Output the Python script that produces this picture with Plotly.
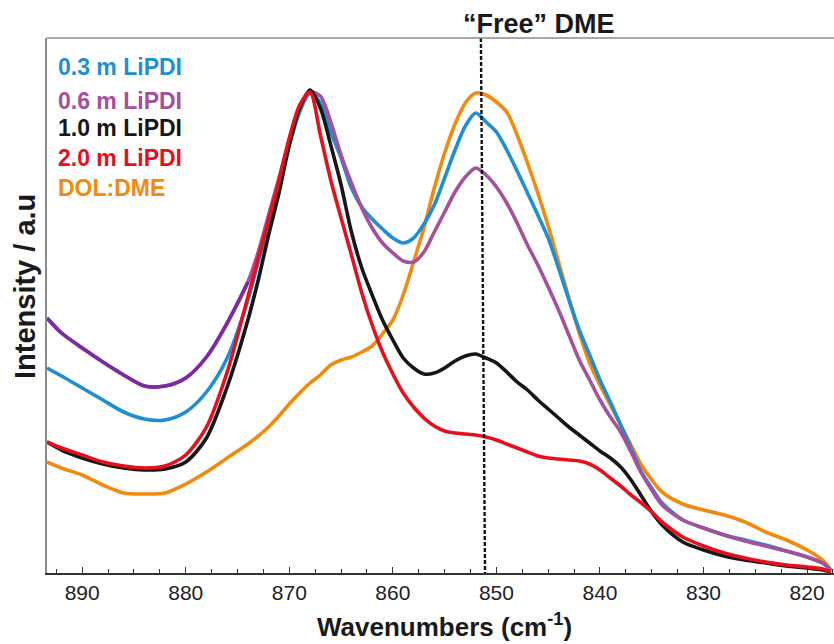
import plotly.graph_objects as go

# ---------------- data ----------------
wavenumber = [893.4, 892, 890, 888, 886, 884, 882, 880, 878, 876, 874,
              873, 872, 871, 870, 869, 868, 867, 866, 865, 864, 863, 862, 861, 860,
              859, 858, 857, 856, 855, 854, 853, 852, 851, 850, 849, 848, 847, 846,
              845, 844, 843, 842, 841, 840, 839, 838, 837, 836, 835, 834,
              832, 830, 828, 826, 824, 822, 820, 818.5, 817.7]

lipdi_03 = [205, 197, 185, 173, 161, 154, 153, 161, 181, 215, 273,
            311, 348, 388, 428, 461, 480, 470, 441, 415, 385, 366, 354, 344, 335,
            330, 335, 349, 368, 395, 423, 447, 460, 451, 441, 423, 402, 380, 358,
            335, 305, 273, 243, 218, 193, 171, 148, 125, 101, 85, 70,
            53, 45, 38, 33, 28, 22, 16, 10, 3]

lipdi_06 = [255, 240, 225, 211, 198, 187, 187, 195, 216, 250, 291,
            321, 358, 395, 433, 465, 481, 477, 451, 418, 390, 365, 345, 330, 320,
            312, 311, 321, 341, 361, 381, 396, 405, 398, 386, 370, 350, 328, 308,
            286, 263, 238, 213, 193, 173, 156, 141, 121, 100, 83, 68,
            53, 45, 38, 32, 27, 22, 16, 10, 3]

lipdi_10 = [131, 123, 115, 109, 105, 103, 104, 111, 135, 186, 253,
            293, 338, 380, 428, 465, 483, 465, 428, 388, 341, 305, 278, 253, 233,
            215, 205, 199, 200, 205, 212, 217, 219, 215, 210, 201, 191, 183, 173,
            164, 155, 146, 138, 130, 122, 115, 106, 93, 77, 61, 48,
            31, 23, 17, 13, 10, 7, 5, 3, 1]

lipdi_20 = [131, 125, 118, 111, 107, 105, 107, 118, 146, 201, 276,
            315, 353, 392, 435, 468, 481, 438, 393, 355, 318, 280, 248, 221, 199,
            180, 166, 155, 147, 142, 140, 139, 138, 136, 133, 129, 125, 121, 117,
            115, 114, 113, 112, 109, 103, 95, 87, 78, 70, 61, 51,
            36, 27, 20, 15, 11, 8, 6, 4, 1]

dol_dme = [111, 105, 98, 88, 80, 79, 80, 89, 101, 115, 129,
           137, 146, 157, 169, 180, 190, 198, 208, 213, 216, 221, 227, 239, 253,
           278, 311, 345, 385, 420, 449, 470, 480, 478, 471, 461, 438, 410, 380,
           347, 311, 275, 240, 210, 188, 168, 148, 128, 108, 93, 81,
           69, 63, 58, 51, 41, 33, 23, 13, 3]

series_names = ["0.3 m LiPDI", "0.6 m LiPDI", "1.0 m LiPDI", "2.0 m LiPDI", "DOL:DME"]
series_colors = ["#1f8fd2", "#a4509c", "#161616", "#e5101c", "#f28a10"]

free_dme_x = [851.5, 851.1]      # dashed reference line (top, bottom)
free_dme_y = [535, 0]
x_ticks = [890, 880, 870, 860, 850, 840, 830, 820]
x_range = [893.4, 817.4]
y_range = [0, 535]

# ---------------- figure ----------------
fig = go.Figure()

ser = [lipdi_03, lipdi_06, lipdi_10, lipdi_20, dol_dme]
order = [4, 0, 1, 2, 3]
for i in order:
    fig.add_trace(go.Scatter(x=wavenumber, y=ser[i], mode="lines", name=series_names[i],
                             line=dict(color=series_colors[i], width=3.6, shape="spline",
                                       smoothing=0.8),
                             showlegend=False, hoverinfo="skip"))
    if i == 1:
        # darker violet tint of the 0.6 m curve at high wavenumbers
        n = sum(1 for w in wavenumber if w >= 875)
        fig.add_trace(go.Scatter(x=wavenumber[:n + 1], y=lipdi_06[:n + 1], mode="lines",
                                 line=dict(color="#7f2aa0", width=3.6, shape="spline",
                                           smoothing=0.8),
                                 showlegend=False, hoverinfo="skip"))

fig.add_trace(go.Scatter(x=free_dme_x, y=free_dme_y, mode="lines",
                         line=dict(color="#111111", width=2.4, dash="4px,2px"),
                         showlegend=False, hoverinfo="skip"))

W, H = 834, 644
ml, mr, mt, mb = 47, 0, 38, 71
pw, ph = W - ml - mr, H - mt - mb

def px(xp):
    return (xp - ml) / pw

def py(yp):
    return (H - mb - yp) / ph

FONT = "Liberation Sans, Arial"
legend_y = [67, 101, 128, 158, 188]
ann = []
for name, col, yy in zip(series_names, series_colors, legend_y):
    ann.append(dict(text="<b>%s</b>" % name, x=px(56), y=py(yy), xref="paper", yref="paper",
                    xanchor="left", yanchor="middle", showarrow=False,
                    font=dict(family=FONT, size=23, color=col)))

ann.append(dict(text="<b>\u201cFree\u201d DME</b>", x=px(539), y=py(24), xref="paper", yref="paper",
                xanchor="center", yanchor="middle", showarrow=False,
                font=dict(family=FONT, size=27, color="#1a1a1a")))
ann.append(dict(text="<b>Wavenumbers (cm<sup>-1</sup>)</b>", x=px(444), y=py(625), xref="paper",
                yref="paper", xanchor="center", yanchor="middle", showarrow=False,
                font=dict(family=FONT, size=26, color="#1a1a1a")))
ann.append(dict(text="<b>Intensity / a.u</b>", x=px(25), y=py(287), xref="paper", yref="paper",
                xanchor="center", yanchor="middle", showarrow=False, textangle=-90,
                font=dict(family=FONT, size=29, color="#1a1a1a")))

fig.update_layout(
    width=W, height=H,
    margin=dict(l=ml, r=mr, t=mt, b=mb, pad=0),
    paper_bgcolor="white", plot_bgcolor="white",
    annotations=ann,
    shapes=[dict(type="line", xref="paper", yref="paper", x0=0, x1=1, y0=1, y1=1,
                 line=dict(color="#8a8a8a", width=1.5))],
)
fig.update_xaxes(range=x_range, tickvals=x_ticks, ticks="inside", ticklen=6, tickwidth=1.2,
                 tickcolor="#333", showline=True, linecolor="#333", linewidth=1.5,
                 showgrid=False, zeroline=False,
                 minor=dict(dtick=2.5, ticks="inside", ticklen=4, tickcolor="#333", tickwidth=1),
                 tickfont=dict(family="Liberation Sans Narrow, Arial Narrow, Liberation Sans",
                               size=21, color="#222"))
fig.update_yaxes(range=y_range, showticklabels=False, ticks="", showline=True,
                 linecolor="#8a8a8a", linewidth=1.5, showgrid=False, zeroline=False)

fig.write_html("out.html")
